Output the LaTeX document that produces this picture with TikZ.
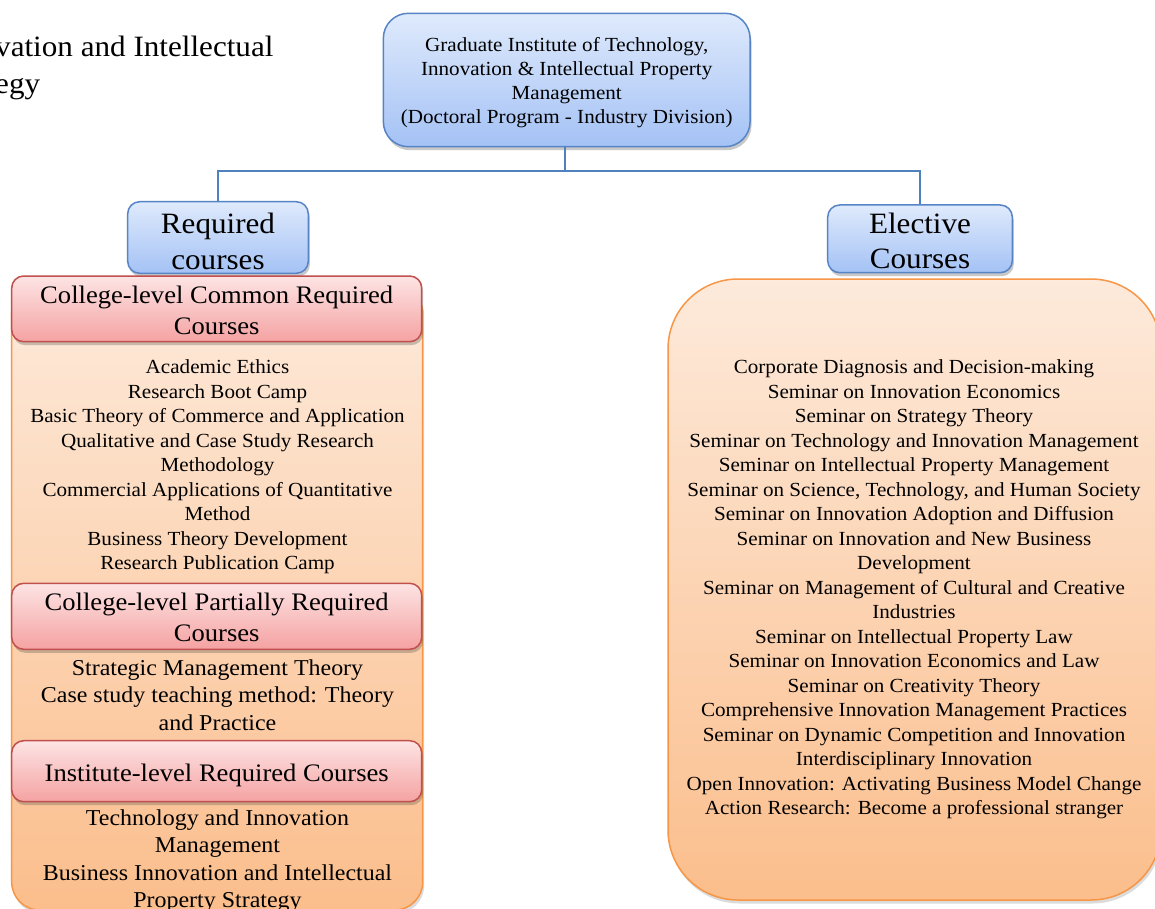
\documentclass[tikz,border=0pt]{standalone}
\usepackage{fontspec}
\setmainfont{Liberation Serif}[FakeStretch=1.055]
\usetikzlibrary{shadows}
\definecolor{bluetop}{RGB}{223,234,252}
\definecolor{bluebot}{RGB}{164,194,245}
\definecolor{blueline}{RGB}{86,132,198}
\definecolor{redtop}{RGB}{253,228,228}
\definecolor{redbot}{RGB}{245,162,162}
\definecolor{redline}{RGB}{192,80,77}
\definecolor{orgtop}{RGB}{253,234,219}
\definecolor{orgbot}{RGB}{251,190,140}
\definecolor{orgline}{RGB}{247,150,70}
\definecolor{connline}{RGB}{79,129,189}
\tikzset{
  bluebox/.style={draw=blueline, line width=1.5pt, top color=bluetop, bottom color=bluebot,
    rounded corners=12pt, inner sep=0pt,
    drop shadow={shadow xshift=1.5pt, shadow yshift=-3.5pt, opacity=0.3, fill=black!70}},
  redhead/.style={draw=redline, line width=1.5pt, top color=redtop, bottom color=redbot,
    rounded corners=12pt, inner sep=0pt, minimum width=410pt,
    drop shadow={shadow xshift=1.5pt, shadow yshift=-3.5pt, opacity=0.3, fill=black!70}},
  orgbox/.style={draw=orgline, line width=1.5pt, top color=orgtop, bottom color=orgbot,
    inner sep=0pt,
    drop shadow={shadow xshift=1.5pt, shadow yshift=-3.5pt, opacity=0.2, fill=black!70}},
  conn/.style={draw=connline, line width=1.5pt},
  txt/.style={inner sep=0pt, align=center, anchor=north, text=black},
  listfont/.style={font=\fontsize{20}{24.5}\selectfont},
  midfont/.style={font=\fontsize{22.7}{27.5}\selectfont},
  headfont/.style={font=\fontsize{25.2}{31}\selectfont},
  bigfont/.style={font=\fontsize{29.5}{35.5}\selectfont},
}
\begin{document}
\begin{tikzpicture}[x=1pt,y=-1pt]
\useasboundingbox (0,0) rectangle (1155,909);
\fill[white] (0,0) rectangle (1155,909);

% cut-off text at top left
\node[inner sep=0pt, anchor=base west, font=\fontsize{29.5}{37}\selectfont] (frag1) at (-5,56.7) {vation and Intellectual};
\node[inner sep=0pt, anchor=base west, font=\fontsize{29.5}{37}\selectfont] (frag2) at (-5,93.5) {egy};

% top box
\node[bluebox, rounded corners=25pt, minimum width=366.7pt, minimum height=133.4pt] (top) at (566.7,80) {};
\node[txt, font=\fontsize{20}{24}\selectfont] (topT) at (566.7,37.0)
  {Graduate Institute of Technology,\\Innovation \& Intellectual Property\\Management\\(Doctoral Program - Industry Division)};

% category boxes
\node[bluebox, minimum width=180.6pt, minimum height=71.6pt] (req) at (218,237.5) {};
\node[txt, bigfont] (reqT) at (218,213.2) {Required\\courses};
\node[bluebox, minimum width=184.6pt, minimum height=67.7pt] (ele) at (920,238.85) {};
\node[txt, bigfont] (eleT) at (920,212.6) {Elective\\Courses};

% connectors
\coordinate (hub) at (565,171);
\draw[conn] (top.south -| hub) -- (hub);
\draw[conn] (hub) -| (req.north);
\draw[conn] (hub) -| (ele.north);

% left orange panel
\node[orgbox, rounded corners=28pt, minimum width=411pt, minimum height=625pt] (left) at (217.2,597.5) {};

\node[redhead, minimum height=65.7pt] (h1) at (216.7,308.85) {};
\node[txt, headfont] (h1T) at (216.7,286.3) {College-level Common Required\\Courses};
\node[txt, listfont] (l1) at (217.5,359.6)
  {Academic Ethics\\Research Boot Camp\\Basic Theory of Commerce and Application\\Qualitative and Case Study Research\\Methodology\\Commercial Applications of Quantitative\\Method\\Business Theory Development\\Research Publication Camp};

\node[redhead, minimum height=66pt] (h2) at (216.7,616.3) {};
\node[txt, headfont] (h2T) at (216.7,592.8) {College-level Partially Required\\Courses};
\node[txt, midfont] (l2) at (217.5,659.5)
  {Strategic Management Theory\\Case study teaching method: Theory\\and Practice};

\node[redhead, minimum height=61pt] (h3) at (216.7,771.2) {};
\node[txt, headfont] (h3T) at (216.7,763.5) {Institute-level Required Courses};
\node[txt, midfont] (l3) at (217.5,809.5)
  {Technology and Innovation\\Management\\Business Innovation and Intellectual\\Property Strategy};

% right orange panel
\node[orgbox, rounded corners=70pt, minimum width=493pt, minimum height=621pt] (right) at (914.5,589.5) {};
\node[txt, listfont] (r1) at (914,359.6)
  {Corporate Diagnosis and Decision-making\\
   Seminar on Innovation Economics\\
   Seminar on Strategy Theory\\
   Seminar on Technology and Innovation Management\\
   Seminar on Intellectual Property Management\\
   Seminar on Science, Technology, and Human Society\\
   Seminar on Innovation Adoption and Diffusion\\
   Seminar on Innovation and New Business\\
   Development\\
   Seminar on Management of Cultural and Creative\\
   Industries\\
   Seminar on Intellectual Property Law\\
   Seminar on Innovation Economics and Law\\
   Seminar on Creativity Theory\\
   Comprehensive Innovation Management Practices\\
   Seminar on Dynamic Competition and Innovation\\
   Interdisciplinary Innovation\\
   Open Innovation: Activating Business Model Change\\
   Action Research: Become a professional stranger};
\end{tikzpicture}
\end{document}
